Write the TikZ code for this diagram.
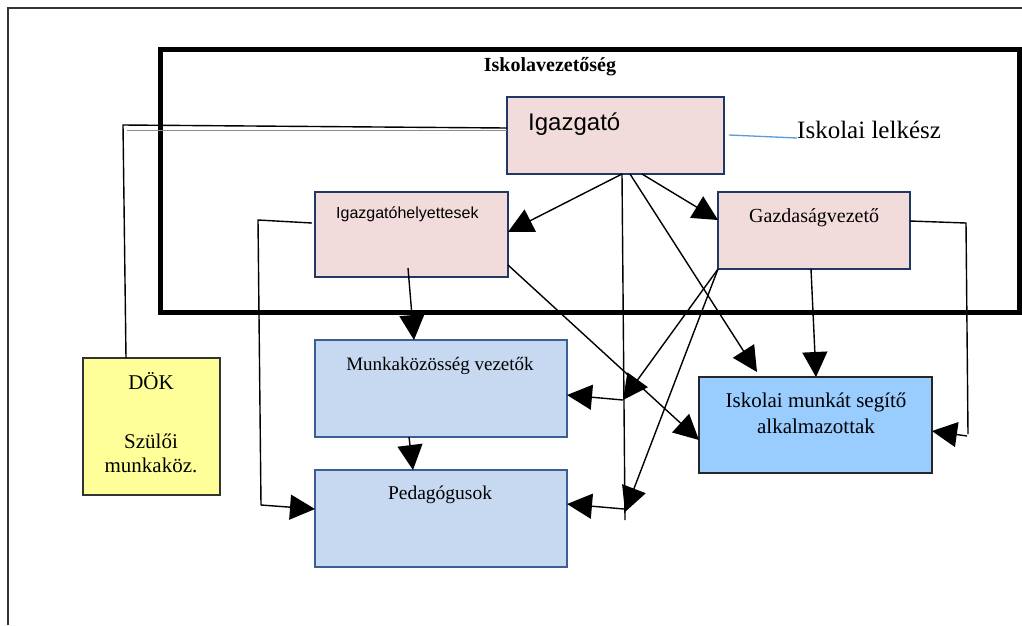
\documentclass[tikz,border=0pt]{standalone}
\usepackage{fontspec}
\setmainfont{Liberation Serif}
\newfontfamily\arialfont{Liberation Sans}
\usetikzlibrary{arrows.meta,calc}
\definecolor{pinkfill}{HTML}{F2DCDB}
\definecolor{navyedge}{HTML}{1F3864}
\definecolor{bluefill}{HTML}{C6D9F1}
\definecolor{blueedge}{HTML}{3A5F95}
\definecolor{skyfill}{HTML}{99CCFF}
\definecolor{yellowfill}{HTML}{FFFF99}
\definecolor{lelkblue}{HTML}{5B9BD5}
\definecolor{frameedge}{HTML}{333333}
\begin{document}
\begin{tikzpicture}[x=1pt,y=-1pt,
  box/.style={draw, line width=1.5pt, anchor=north west, inner sep=0pt, outer sep=0pt},
  pinkbox/.style={box, fill=pinkfill, draw=navyedge},
  bluebox/.style={box, fill=bluefill, draw=blueedge},
  skybox/.style={box, fill=skyfill, draw=black!85},
  yellowbox/.style={box, fill=yellowfill, draw=black!80},
  conn/.style={line width=1.4pt, black},
  arr/.style={conn, -{Triangle[length=25pt,width=25pt]}},
  lbl/.style={anchor=base, inner sep=0pt},
  lblw/.style={anchor=base west, inner sep=0pt},
]
\useasboundingbox (0,0) rectangle (1022,625);
% outer frame
\draw[frameedge, line width=1.3pt] (8,625) -- (8,8) -- (1022,8);
% Iskolavezetoseg frame
\node[draw, line width=5pt, anchor=north west, inner sep=0pt, minimum width=859pt, minimum height=263pt] (vez) at (158,47) {};
\node[lbl, font=\bfseries\fontsize{20}{24}\selectfont] (vezlbl) at (550,71) {Iskolavezetőség};
% boxes
\node[pinkbox, minimum width=217pt, minimum height=77pt] (igaz) at (507,97) {};
\node[pinkbox, minimum width=193pt, minimum height=85pt] (ih) at (315,192) {};
\node[pinkbox, minimum width=192pt, minimum height=77pt] (gv) at (718,192) {};
\node[yellowbox, minimum width=137pt, minimum height=137pt] (dok) at (83,358) {};
\node[bluebox, minimum width=252pt, minimum height=97pt] (mkv) at (315,340) {};
\node[bluebox, minimum width=252pt, minimum height=97pt] (ped) at (315,470) {};
\node[skybox, minimum width=233pt, minimum height=96pt] (isk) at (699,377) {};
% labels
\node[lblw, font=\arialfont\fontsize{24}{28}\selectfont] (igazlbl) at (528,130) {Igazgató};
\node[lblw, font=\fontsize{25}{30}\selectfont] (lelkesz) at (797,138) {Iskolai lelkész};
\node[lblw, font=\arialfont\fontsize{16}{19}\selectfont] (ihlbl) at (336,218) {Igazgatóhelyettesek};
\node[lblw, font=\fontsize{20}{24}\selectfont] (gvlbl) at (749,222) {Gazdaságvezető};
\node[lbl, font=\fontsize{19}{23}\selectfont] (mkvlbl) at (440,370) {Munkaközösség vezetők};
\node[lbl, font=\fontsize{19.5}{23}\selectfont] (pedlbl) at (440,499) {Pedagógusok};
\node[lbl, font=\fontsize{21}{25}\selectfont] (doklbl) at (151,389) {DÖK};
\node[lbl, font=\fontsize{21}{25}\selectfont] (szlbl) at (151,448) {Szülői};
\node[lbl, font=\fontsize{21}{25}\selectfont] (mklbl) at (151,472) {munkaköz.};
\node[lbl, font=\fontsize{21}{25}\selectfont] (isklbl1) at (816,407) {Iskolai munkát segítő};
\node[lbl, font=\fontsize{21}{25}\selectfont] (isklbl2) at (816,433) {alkalmazottak};
% coordinates
\coordinate (dokc) at (123,125);
\coordinate (ihc1) at (258,220);
\coordinate (ihc2) at (261,505);
\coordinate (vbot) at (625,520);
\coordinate (j1) at (623,400);
\coordinate (j2) at (624,509);
\coordinate (gvc1) at (966,223);
\coordinate (gvc2) at (968,434);
\coordinate (gvc3) at (967,436);
% lelkesz line
\draw[lelkblue, line width=1.3pt] ($(igaz.north east)+(5,38)$) -- (lelkesz.base west);
% DOK line
\draw[conn] ($(igaz.north west)+(0,31)$) -- (dokc) -- ($(dok.north west)+(43,0)$);
\draw[black!45, line width=0.8pt] ($(igaz.north west)+(0,33)$) -- (127,130);
% Igazgatohelyettesek left
\draw[conn] ($(ih.north west)+(-3,31)$) -- (ihc1) -- (ihc2);
\draw[arr] (ihc2) -- ($(ped.north west)+(0,39)$);
% vertical chain
\draw[arr] ($(ih.south west)+(93,-9)$) -- ($(mkv.north west)+(99,0)$);
\draw[arr] ($(mkv.south west)+(94,0)$) -- ($(ped.north west)+(98,0)$);
% from Igazgato
\draw[arr] ($(igaz.south west)+(115,0)$) -- ($(ih.north east)+(0,40)$);
\draw[arr] ($(igaz.south west)+(135,0)$) -- ($(gv.north west)+(0,28)$);
\draw[conn] ($(igaz.south west)+(115,0)$) -- (vbot);
\draw[arr] (j1) -- ($(mkv.north east)+(0,55)$);
\draw[arr] (j2) -- ($(ped.north east)+(0,34)$);
\draw[arr] ($(igaz.south west)+(123,0)$) -- ($(isk.north west)+(58,-5)$);
% from Igazgatohelyettesek to isk
\draw[arr] ($(ih.south east)+(0,-12)$) -- ($(isk.north west)+(0,63)$);
% from Gazdasagvezeto
\draw[arr] (gv.south west) -- (j1);
\draw[arr] (gv.south west) -- ($(j2)+(1,3)$);
\draw[arr] ($(gv.south west)+(93,0)$) -- ($(isk.north west)+(117,0)$);
\draw[conn] ($(gv.north east)+(0,29)$) -- (gvc1) -- (gvc2);
\draw[arr] (gvc3) -- ($(isk.north east)+(0,54)$);
\end{tikzpicture}
\end{document}
